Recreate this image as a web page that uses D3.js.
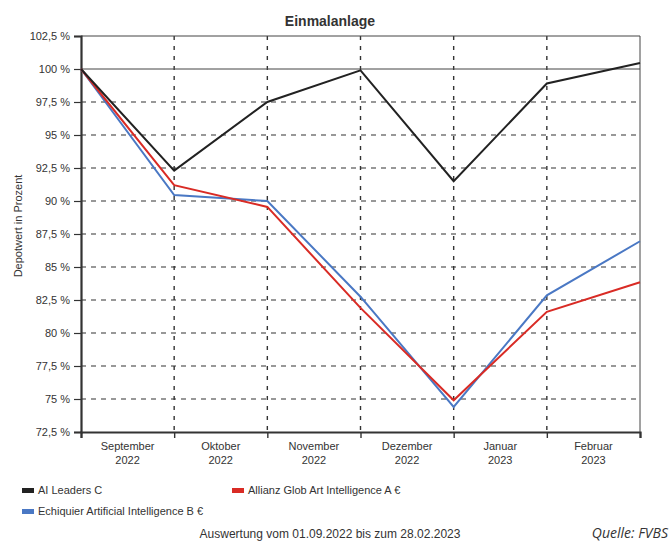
<!DOCTYPE html>
<html>
<head>
<meta charset="utf-8">
<script src="https://cdn.jsdelivr.net/npm/d3@7"></script>
<style>
  body { margin: 0; background: #fff; }
  text { font-family: "Liberation Sans", Arial, sans-serif; fill: #333; }
</style>
</head>
<body>
<div id="chart"></div>
<script>
// Zeitpunkte: 01.09.2022 und jeweils Monatsende
var months = ["September", "Oktober", "November", "Dezember", "Januar", "Februar"];
var years = ["2022", "2022", "2022", "2022", "2023", "2023"];
var yTicks = [72.5, 75, 77.5, 80, 82.5, 85, 87.5, 90, 92.5, 95, 97.5, 100, 102.5];

var aiLeaders = [100, 92.3, 97.5, 99.9, 91.5, 98.9, 100.45];
var allianz = [100, 91.2, 89.55, 81.9, 74.9, 81.6, 83.85];
var echiquier = [100, 90.45, 90.0, 82.75, 74.4, 82.85, 86.95];

var seriesNames = ["AI Leaders C", "Allianz Glob Art Intelligence A €", "Echiquier Artificial Intelligence B €"];
var seriesColors = ["#222222", "#d92b25", "#4a78c4"];

var W = 670, H = 542;
var margin = { top: 36, right: 30, bottom: 110, left: 81 },
    width = 640 - margin.left,
    height = 432 - margin.top;

var svg = d3.select("#chart").append("svg")
    .attr("width", W)
    .attr("height", H);

var g = svg.append("g")
    .attr("transform", "translate(" + margin.left + "," + margin.top + ")");

var x = d3.scaleLinear().domain([0, months.length]).range([0, width]);
var y = d3.scaleLinear().domain([72.5, 102.5]).range([height, 0]);

// horizontale Gitterlinien
g.selectAll(".hgrid")
    .data(yTicks.filter(function(d) { return d > 72.5 && d < 100; }))
    .enter().append("line")
      .attr("x1", 0).attr("x2", width)
      .attr("y1", function(d) { return y(d); })
      .attr("y2", function(d) { return y(d); })
      .attr("stroke", "#333")
      .attr("stroke-width", 1.2)
      .attr("stroke-dasharray", "5,5");

// vertikale Gitterlinien
g.selectAll(".vgrid")
    .data(d3.range(1, months.length))
    .enter().append("line")
      .attr("x1", function(d) { return x(d); })
      .attr("x2", function(d) { return x(d); })
      .attr("y1", 0).attr("y2", height)
      .attr("stroke", "#333")
      .attr("stroke-width", 1.4)
      .attr("stroke-dasharray", "4,6");

// 100 % Linie
g.append("line")
    .attr("x1", 0).attr("x2", width)
    .attr("y1", y(100)).attr("y2", y(100))
    .attr("stroke", "#444").attr("stroke-width", 1);

// Rahmen oben/rechts
g.append("line").attr("x1", 0).attr("x2", width).attr("y1", 0).attr("y2", 0)
    .attr("stroke", "#444").attr("stroke-width", 1);
g.append("line").attr("x1", width).attr("x2", width).attr("y1", 0).attr("y2", height)
    .attr("stroke", "#444").attr("stroke-width", 1);

// y-Achse
var yAxis = d3.axisLeft(y)
    .tickValues(yTicks)
    .tickSize(7)
    .tickPadding(4)
    .tickFormat(function(d) { return String(d).replace(".", ",") + " %"; });
var ya = g.append("g").call(yAxis);
ya.select(".domain").attr("stroke", "#333").attr("stroke-width", 2.2);
ya.selectAll(".tick line").attr("stroke", "#333").attr("stroke-width", 1.2);
ya.selectAll("text").style("font-size", "11px").style("font-family", "Liberation Sans, Arial, sans-serif").attr("fill", "#444");

// x-Achse
var xAxis = d3.axisBottom(x)
    .tickValues(d3.range(0, months.length + 1))
    .tickSize(6)
    .tickFormat("");
var xa = g.append("g").attr("transform", "translate(0," + height + ")").call(xAxis);
xa.select(".domain").attr("stroke", "#333").attr("stroke-width", 2.2);
xa.selectAll(".tick line").attr("stroke", "#333").attr("stroke-width", 1.4);

var mlab = g.selectAll(".mlab")
    .data(months)
    .enter().append("text")
      .attr("class", "mlab")
      .attr("x", function(d, i) { return x(i + 0.5); })
      .attr("y", height + 18)
      .style("text-anchor", "middle")
      .style("font-size", "11px")
      .attr("fill", "#444");
mlab.append("tspan").text(function(d) { return d; });
mlab.append("tspan")
    .attr("x", function(d, i) { return x(i + 0.5); })
    .attr("dy", 14)
    .text(function(d, i) { return years[i]; });

// Linien
var line = d3.line()
    .x(function(d, i) { return x(i); })
    .y(function(d) { return y(d); });

[echiquier, allianz, aiLeaders].forEach(function(s, k) {
  var idx = [2, 1, 0][k];
  g.append("path")
      .datum(s)
      .attr("d", line)
      .attr("fill", "none")
      .attr("stroke", seriesColors[idx])
      .attr("stroke-width", 2)
      .attr("stroke-linejoin", "miter");
});

// Titel
svg.append("text")
    .attr("x", 330)
    .attr("y", 26)
    .style("text-anchor", "middle")
    .style("font-size", "14px")
    .style("font-weight", "bold")
    .attr("fill", "#222")
    .text("Einmalanlage");

// y-Beschriftung
svg.append("text")
    .attr("transform", "translate(22,226) rotate(-90)")
    .style("text-anchor", "middle")
    .style("font-size", "11px")
    .attr("fill", "#444")
    .text("Depotwert in Prozent");

// Legende
var legendPos = [[22, 494], [232, 494], [22, 515]];
var legend = svg.selectAll(".legend")
    .data(seriesNames)
    .enter().append("g")
      .attr("class", "legend")
      .attr("transform", function(d, i) { return "translate(" + legendPos[i][0] + "," + legendPos[i][1] + ")"; });
legend.append("rect")
    .attr("x", 0).attr("y", -6)
    .attr("width", 12).attr("height", 5)
    .attr("fill", function(d, i) { return seriesColors[i]; });
legend.append("text")
    .attr("x", 16).attr("y", 0)
    .style("font-size", "11px")
    .attr("fill", "#444")
    .text(function(d) { return d; });

// Fusszeile
svg.append("text")
    .attr("x", 330)
    .attr("y", 538)
    .style("text-anchor", "middle")
    .style("font-size", "12px")
    .attr("fill", "#333")
    .text("Auswertung vom 01.09.2022 bis zum 28.02.2023");

svg.append("text")
    .attr("x", 668)
    .attr("y", 538)
    .style("text-anchor", "end")
    .style("font-size", "14px")
    .style("font-style", "italic")
    .style("font-family", "Open Sans, sans-serif")
    .attr("fill", "#2d3b78")
    .text("Quelle: FVBS");
</script>
</body>
</html>
